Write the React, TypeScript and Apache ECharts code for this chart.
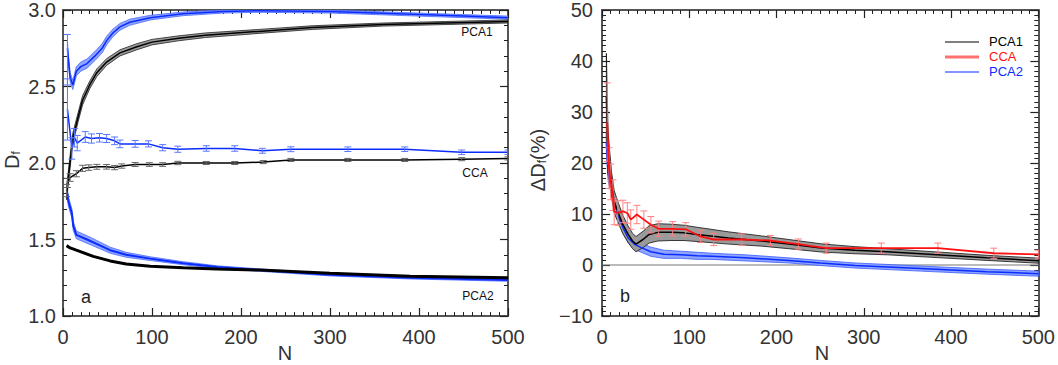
import { useEffect, useRef } from 'react';
import * as echarts from 'echarts';

// ---------- Panel a (left) ----------
const aP1BlackN = [4, 8, 11, 17, 22, 30, 38, 49, 64, 83, 100, 130, 160, 220, 280, 360, 430, 500];
const aP1BlackV = [1.80, 2.01, 2.16, 2.30, 2.41, 2.51, 2.59, 2.66, 2.72, 2.76, 2.79, 2.815, 2.835, 2.86, 2.885, 2.905, 2.915, 2.925];
const aP1BlackE = [0.04, 0.04, 0.035, 0.03, 0.03, 0.025, 0.025, 0.022, 0.02, 0.02, 0.018, 0.016, 0.015, 0.013, 0.012, 0.01, 0.01, 0.01];

const aP1BlueN = [5, 6, 8, 11, 15, 20, 27, 36, 44, 49, 56, 64, 75, 98, 135, 180, 220, 300, 400, 450, 500];
const aP1BlueV = [2.75, 2.68, 2.56, 2.51, 2.60, 2.63, 2.65, 2.70, 2.75, 2.80, 2.85, 2.89, 2.92, 2.95, 2.975, 2.99, 2.995, 2.99, 2.97, 2.96, 2.95];
const aP1BlueE = [0.04, 0.035, 0.03, 0.03, 0.03, 0.03, 0.03, 0.03, 0.03, 0.028, 0.025, 0.022, 0.02, 0.015, 0.012, 0.01, 0.01, 0.01, 0.01, 0.01, 0.01];
const aP1BlueBarN = [5];
const aP1BlueBarLo = [2.51];
const aP1BlueBarHi = [2.84];

const aCCABlackN = [4, 5, 8, 15, 22, 29, 38, 49, 58, 66, 81, 97, 112, 129, 161, 193, 225, 256, 320, 384, 448, 500];
const aCCABlackV = [1.82, 1.87, 1.905, 1.93, 1.965, 1.97, 1.975, 1.975, 1.97, 1.98, 1.99, 1.99, 1.99, 2.0, 2.0, 2.0, 2.006, 2.02, 2.02, 2.02, 2.025, 2.03];
const aCCABlackE = [0.04, 0.03, 0.025, 0.02, 0.02, 0.018, 0.016, 0.015, 0.014, 0.014, 0.013, 0.012, 0.012, 0.011, 0.01, 0.01, 0.01, 0.01, 0.01, 0.01, 0.01, 0.01];

const aCCABlueN = [5, 10, 13, 16, 25, 32, 41, 49, 58, 64, 81, 96, 112, 129, 161, 193, 224, 256, 320, 384, 448, 500];
const aCCABlueV = [2.35, 2.095, 2.165, 2.13, 2.17, 2.16, 2.165, 2.16, 2.145, 2.125, 2.125, 2.125, 2.10, 2.09, 2.095, 2.095, 2.08, 2.09, 2.09, 2.09, 2.07, 2.07];
const aCCABlueE = [0.2, 0.07, 0.06, 0.05, 0.035, 0.03, 0.028, 0.026, 0.025, 0.025, 0.022, 0.02, 0.02, 0.02, 0.018, 0.018, 0.016, 0.016, 0.015, 0.015, 0.015, 0.015];

const aP2BlackN = [4, 8, 15, 34, 53, 71, 98, 135, 173, 221, 300, 390, 500];
const aP2BlackV = [1.46, 1.445, 1.43, 1.39, 1.36, 1.34, 1.325, 1.315, 1.308, 1.30, 1.28, 1.26, 1.25];

const aP2BlueN = [5, 6, 10, 11.5, 15, 27, 42, 53, 71, 98, 135, 173, 221, 300, 390, 500];
const aP2BlueV = [1.80, 1.75, 1.67, 1.59, 1.53, 1.50, 1.46, 1.43, 1.40, 1.375, 1.345, 1.32, 1.30, 1.27, 1.25, 1.235];
const aP2BlueE = [0.03, 0.03, 0.03, 0.03, 0.025, 0.025, 0.022, 0.02, 0.016, 0.012, 0.01, 0.008, 0.008, 0.008, 0.008, 0.008];

// ---------- Panel b (right) ----------
const bP1N = [5, 7, 9, 11, 14, 18, 24, 30, 35, 39, 47, 54, 64, 79, 94, 109, 145, 183, 214, 251, 290, 327, 384, 441, 500];
const bP1V = [33, 22, 19, 15.7, 12.4, 10.5, 7.9, 6.0, 4.7, 4.1, 5.0, 6.0, 6.4, 6.4, 6.3, 6.0, 5.3, 4.7, 4.1, 3.35, 2.9, 2.6, 2.0, 1.4, 0.85];
const bP1E = [8.5, 4, 3, 2.5, 2.2, 2, 1.8, 1.6, 1.5, 1.5, 1.6, 1.7, 1.7, 1.6, 1.5, 1.4, 1.2, 1.0, 0.9, 0.8, 0.7, 0.6, 0.55, 0.5, 0.5];

const bCCAN = [6, 8, 10, 12.5, 14, 18, 24, 29, 33, 40, 48, 56, 65, 81, 96, 113, 128, 160, 193, 225, 257, 320, 385, 449, 500];
const bCCAV = [28, 19, 16.3, 13.7, 10.5, 10.2, 10.5, 10.2, 8.9, 9.9, 8.9, 7.9, 7.1, 7.1, 7.0, 5.6, 5.0, 5.0, 4.8, 4.1, 3.3, 3.3, 3.3, 2.3, 2.1];
const bCCAE = [7.7, 4, 3.5, 3, 2.6, 2.4, 2.2, 2.0, 1.9, 1.8, 1.7, 1.6, 1.5, 1.4, 1.3, 1.2, 1.2, 1.1, 1.0, 1.0, 1.0, 1.0, 1.0, 1.0, 0.8];

const bP2N = [5, 7, 11, 14, 18, 24, 30, 37, 45, 56, 71, 90, 109, 126, 164, 214, 250, 290, 365, 441, 500];
const bP2V = [24, 18, 15, 12.4, 9.9, 7.3, 5.3, 4.1, 3.4, 2.6, 2.1, 2.0, 1.8, 1.7, 1.4, 0.9, 0.4, -0.1, -0.7, -1.3, -1.7];
const bP2E = [2, 1.5, 1.3, 1.2, 1.1, 1.0, 1.0, 1.0, 0.9, 0.9, 0.8, 0.7, 0.7, 0.6, 0.6, 0.5, 0.5, 0.5, 0.5, 0.5, 0.5];

const zeroX = [0, 500];
const zeroY = [0, 0];

const FONT = 'Liberation Sans, Arial, sans-serif';
const BLUE = '#0a2cff';
const BLUE_BAND = '#8fa5ff';
const RED = '#ff1010';
const RED_BAR = '#ff8080';
const GRAY_BAND = '#9a9a9a';

function pairs(xs: number[], ys: number[]) {
  return xs.map((x, i) => [x, ys[i]]);
}

function lineSeries(xs: number[], ys: number[], color: string, width: number, xi: number, yi: number, z = 3) {
  return {
    type: 'line', xAxisIndex: xi, yAxisIndex: yi, data: pairs(xs, ys),
    showSymbol: false, symbol: 'none', silent: true, z,
    lineStyle: { color, width }, clip: true,
  };
}

function bandSeries(xs: number[], vs: number[], es: number[], fill: string, stroke: string, xi: number, yi: number) {
  const lo = vs.map((v, i) => v - es[i]);
  const hi = vs.map((v, i) => v + es[i]);
  return {
    type: 'custom', xAxisIndex: xi, yAxisIndex: yi, silent: true, clip: true, z: 2,
    data: xs.map((x, i) => [x, lo[i], hi[i]]),
    encode: { x: 0, y: [1, 2] },
    renderItem: (params: any, api: any) => {
      if (params.dataIndex !== 0) return null;
      const up = xs.map((x, i) => api.coord([x, hi[i]]));
      const dn = xs.map((x, i) => api.coord([x, lo[i]])).reverse();
      return {
        type: 'polygon',
        shape: { points: up.concat(dn) },
        style: { fill, stroke, lineWidth: 0.8 },
      };
    },
  };
}

function errSeries(xs: number[], lo: number[], hi: number[], color: string, xi: number, yi: number) {
  return {
    type: 'custom', xAxisIndex: xi, yAxisIndex: yi, silent: true, clip: true, z: 4,
    data: xs.map((x, i) => [x, lo[i], hi[i]]),
    encode: { x: 0, y: [1, 2] },
    renderItem: (params: any, api: any) => {
      const x = api.value(0);
      const p1 = api.coord([x, api.value(2)]);
      const p2 = api.coord([x, api.value(1)]);
      const w = 3.5;
      const st = { stroke: color, lineWidth: 1 };
      return {
        type: 'group',
        children: [
          { type: 'line', shape: { x1: p1[0], y1: p1[1], x2: p2[0], y2: p2[1] }, style: st },
          { type: 'line', shape: { x1: p1[0] - w, y1: p1[1], x2: p1[0] + w, y2: p1[1] }, style: st },
          { type: 'line', shape: { x1: p2[0] - w, y1: p2[1], x2: p2[0] + w, y2: p2[1] }, style: st },
        ],
      };
    },
  };
}

function errFromSym(xs: number[], vs: number[], es: number[], color: string, xi: number, yi: number) {
  return errSeries(xs, vs.map((v, i) => v - es[i]), vs.map((v, i) => v + es[i]), color, xi, yi);
}

function xAxis(grid: number, pos: 'bottom' | 'top', labels: boolean) {
  return {
    type: 'value', gridIndex: grid, position: pos, min: 0, max: 500, interval: 100,
    axisLine: { show: true, onZero: false, lineStyle: { color: '#555', width: 2 } },
    axisTick: { show: true, inside: true, length: 8, lineStyle: { color: '#222', width: 1.2 } },
    minorTick: { show: true, splitNumber: 10, length: 4, lineStyle: { color: '#222', width: 1 } },
    axisLabel: { show: labels, margin: 11, fontSize: 20, color: '#333', fontFamily: FONT },
    splitLine: { show: false },
  };
}

function yAxis(grid: number, pos: 'left' | 'right', labels: boolean, min: number, max: number, interval: number, minor: number, fmt: (v: number) => string, margin: number) {
  return {
    type: 'value', gridIndex: grid, position: pos, min, max, interval,
    axisLine: { show: true, onZero: false, lineStyle: { color: '#555', width: 2 } },
    axisTick: { show: true, inside: true, length: 8, lineStyle: { color: '#222', width: 1.2 } },
    minorTick: { show: true, splitNumber: minor, length: 4, lineStyle: { color: '#222', width: 1 } },
    axisLabel: { show: labels, margin, fontSize: 20, color: '#333', fontFamily: FONT, formatter: fmt },
    splitLine: { show: false },
  };
}

export default function App() {
  const ref = useRef<HTMLDivElement>(null);
  useEffect(() => {
    if (!ref.current) return;
    const chart = echarts.init(ref.current, undefined, { renderer: 'svg' });
    const fmtA = (v: number) => v.toFixed(1);
    const fmtB = (v: number) => (v < 0 ? '\u2212' + Math.abs(v) : String(v));
    const option: any = {
      animation: false,
      backgroundColor: '#fff',
      grid: [
        { left: 63, top: 1, width: 445, height: 315 },
        { left: 602, top: 6, width: 440, height: 310 },
      ],
      xAxis: [
        xAxis(0, 'bottom', true),
        xAxis(0, 'top', false),
        xAxis(1, 'bottom', true),
        xAxis(1, 'top', false),
      ],
      yAxis: [
        yAxis(0, 'left', true, 1, 3, 0.5, 5, fmtA, 7),
        yAxis(0, 'right', false, 1, 3, 0.5, 5, fmtA, 7),
        yAxis(1, 'left', true, -10, 50, 10, 10, fmtB, 9),
        yAxis(1, 'right', false, -10, 50, 10, 10, fmtB, 9),
      ],
      series: [
        // panel a
        bandSeries(aP1BlueN, aP1BlueV, aP1BlueE, BLUE_BAND, '#4a6aff', 0, 0),
        bandSeries(aP1BlackN, aP1BlackV, aP1BlackE, GRAY_BAND, '#222', 0, 0),
        bandSeries(aP2BlueN, aP2BlueV, aP2BlueE, BLUE_BAND, '#4a6aff', 0, 0),
        lineSeries(aP1BlueN, aP1BlueV, BLUE, 1.5, 0, 0),
        lineSeries(aP1BlackN, aP1BlackV, '#000', 1.5, 0, 0),
        lineSeries(aCCABlueN, aCCABlueV, BLUE, 1.5, 0, 0),
        lineSeries(aCCABlackN, aCCABlackV, '#000', 1.5, 0, 0),
        lineSeries(aP2BlueN, aP2BlueV, BLUE, 2, 0, 0),
        lineSeries(aP2BlackN, aP2BlackV, '#000', 3, 0, 0),
        errSeries(aP1BlueBarN, aP1BlueBarLo, aP1BlueBarHi, '#5a78ff', 0, 0),
        errFromSym(aCCABlueN, aCCABlueV, aCCABlueE, '#5a78ff', 0, 0),
        errFromSym(aCCABlackN, aCCABlackV, aCCABlackE, '#666', 0, 0),
        // panel b
        lineSeries(zeroX, zeroY, '#777', 1, 2, 2, 1),
        bandSeries(bP2N, bP2V, bP2E, BLUE_BAND, '#3a5cff', 2, 2),
        bandSeries(bP1N, bP1V, bP1E, GRAY_BAND, '#111', 2, 2),
        lineSeries(bP2N, bP2V, BLUE, 1.5, 2, 2),
        lineSeries(bP1N, bP1V, '#000', 1.5, 2, 2),
        lineSeries(bCCAN, bCCAV, RED, 1.8, 2, 2, 5),
        errFromSym(bCCAN, bCCAV, bCCAE, RED_BAR, 2, 2),
      ],
      graphic: [
        {
          type: 'text', x: 11, y: 160, rotation: Math.PI / 2,
          style: {
            text: '{d|D}{s|f}', align: 'center', verticalAlign: 'middle',
            rich: {
              d: { fontSize: 20, fontFamily: FONT, fill: '#333', lineHeight: 22, verticalAlign: 'bottom' },
              s: { fontSize: 12, fontFamily: FONT, fill: '#333', lineHeight: 22, verticalAlign: 'bottom' },
            },
          },
        },
        {
          type: 'text', x: 537, y: 160, rotation: Math.PI / 2,
          style: {
            text: '{d|\u0394D}{s|f}{d|(%)}', align: 'center', verticalAlign: 'middle',
            rich: {
              d: { fontSize: 20, fontFamily: FONT, fill: '#333', lineHeight: 22, verticalAlign: 'bottom' },
              s: { fontSize: 12, fontFamily: FONT, fill: '#333', lineHeight: 22, verticalAlign: 'bottom' },
            },
          },
        },
        { type: 'text', x: 285, y: 353, style: { text: 'N', fontSize: 20, fontFamily: FONT, fill: '#333', align: 'center', verticalAlign: 'middle' } },
        { type: 'text', x: 822, y: 353, style: { text: 'N', fontSize: 20, fontFamily: FONT, fill: '#333', align: 'center', verticalAlign: 'middle' } },
        { type: 'text', x: 477, y: 32, style: { text: 'PCA1', fontSize: 12, fontFamily: FONT, fill: '#111', align: 'center', verticalAlign: 'middle' } },
        { type: 'text', x: 475, y: 173, style: { text: 'CCA', fontSize: 12, fontFamily: FONT, fill: '#111', align: 'center', verticalAlign: 'middle' } },
        { type: 'text', x: 478, y: 296, style: { text: 'PCA2', fontSize: 12, fontFamily: FONT, fill: '#111', align: 'center', verticalAlign: 'middle' } },
        { type: 'text', x: 86, y: 297, style: { text: 'a', fontSize: 18, fontFamily: FONT, fill: '#222', align: 'center', verticalAlign: 'middle' } },
        { type: 'text', x: 625, y: 296, style: { text: 'b', fontSize: 18, fontFamily: FONT, fill: '#222', align: 'center', verticalAlign: 'middle' } },
        // legend
        { type: 'line', shape: { x1: 945, y1: 42, x2: 979, y2: 42 }, style: { stroke: '#000', lineWidth: 1.2 } },
        { type: 'line', shape: { x1: 945, y1: 57, x2: 979, y2: 57 }, style: { stroke: '#ff7070', lineWidth: 3 } },
        { type: 'line', shape: { x1: 945, y1: 72, x2: 979, y2: 72 }, style: { stroke: BLUE, lineWidth: 1.2 } },
        { type: 'text', x: 989, y: 41, style: { text: 'PCA1', fontSize: 13, fontFamily: FONT, fill: '#000', verticalAlign: 'middle' } },
        { type: 'text', x: 989, y: 56, style: { text: 'CCA', fontSize: 13, fontFamily: FONT, fill: RED, verticalAlign: 'middle' } },
        { type: 'text', x: 989, y: 71, style: { text: 'PCA2', fontSize: 13, fontFamily: FONT, fill: BLUE, verticalAlign: 'middle' } },
      ],
    };
    chart.setOption(option);
    return () => chart.dispose();
  }, []);
  return <div ref={ref} style={{ position: 'fixed', left: 0, top: 0, width: 1058, height: 365, background: '#fff' }} />;
}
